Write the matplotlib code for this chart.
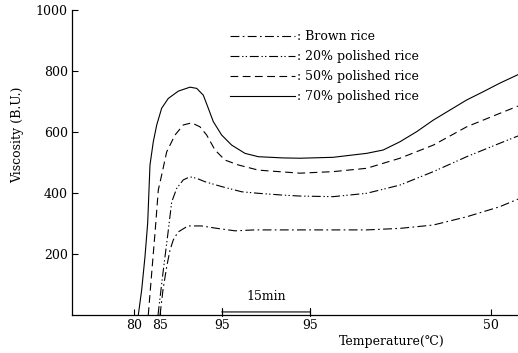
import matplotlib
matplotlib.use("Agg")
import matplotlib.pyplot as plt

plt.rcParams['font.family'] = ['DejaVu Serif', 'DejaVu Sans']
plt.rcParams['font.size'] = 9

# time axis in minutes from start of the amylogram, viscosity in B.U.
t_70 = [11.24, 11.81, 12.37, 12.83, 13.05, 13.22, 13.78, 14.36, 15.20, 16.32, 18.02,
        20.0, 21.14, 22.25, 23.10, 23.95, 25.37, 27.07, 29.32, 31.58, 35.8, 38.64,
        44.24, 49.95, 52.76, 55.59, 58.42, 61.24, 64.07, 66.9, 69.7, 72.5, 75.6]
v_70 = [0, 82, 191, 302, 410, 492, 568, 623, 678, 710, 734,
        747, 743, 721, 678, 634, 590, 557, 530, 519, 515, 514,
        517, 530, 541, 568, 601, 639, 672, 705, 732, 760, 788]

t_50 = [12.93, 13.51, 14.07, 14.63, 15.20, 16.05, 17.46, 18.86, 20.29, 21.69, 22.83,
        24.24, 25.93, 28.19, 31.58, 35.8, 38.64, 44.24, 49.95, 55.59, 61.24, 66.9,
        72.5, 75.6]
v_50 = [0, 138, 269, 410, 459, 535, 590, 623, 630, 617, 590,
        541, 508, 492, 475, 469, 465, 470, 481, 514, 557, 617,
        661, 685]

t_20 = [14.58, 15.42, 16.27, 16.90, 17.75, 18.86, 20.0, 21.14, 22.54, 25.37, 28.76,
        31.58, 35.8, 38.64, 44.24, 49.95, 55.59, 61.24, 66.9, 72.5, 75.6]
v_20 = [0, 138, 269, 371, 415, 443, 453, 448, 437, 421, 404,
        399, 393, 390, 388, 399, 426, 470, 519, 563, 587]

t_br = [14.92, 15.42, 16.05, 16.61, 17.17, 17.97, 19.66, 21.98, 24.24, 27.63, 31.0,
        38.64, 49.95, 55.59, 61.24, 66.9, 72.5, 75.6]
v_br = [0, 82, 158, 213, 246, 272, 292, 292, 285, 276, 279,
        279, 279, 284, 295, 322, 355, 380]

temp_pos = [10.5, 14.9, 25.4, 40.3, 71.0]
temp_lab = ["80", "85", "95", "95", "50"]

fig = plt.figure(figsize=(5.18, 3.53), dpi=100)
ax = fig.add_axes([72/518, 38/353, 446/518, 305/353])

lw = 0.8
ax.plot(t_br, v_br, color='k', lw=lw, dashes=(8, 3, 1.5, 3), label=': Brown rice')
ax.plot(t_20, v_20, color='k', lw=lw, dashes=(8, 2.5, 1.2, 2, 1.2, 2.5), label=': 20% polished rice')
ax.plot(t_50, v_50, color='k', lw=lw, dashes=(7, 4), label=': 50% polished rice')
ax.plot(t_70, v_70, color='k', lw=lw, label=': 70% polished rice')

ax.set_xlim(0, 75.6)
ax.set_ylim(0, 1000)
ax.spines['top'].set_visible(False)
ax.spines['right'].set_visible(False)
ax.spines['left'].set_linewidth(0.9)
ax.spines['bottom'].set_linewidth(0.9)
ax.set_yticks([200, 400, 600, 800, 1000])
ax.set_xticks(temp_pos)
ax.set_xticklabels(temp_lab)
ax.tick_params(direction='in', length=4, width=0.8, pad=3)

# 15 min holding period at 95 C
ax.annotate('', xy=(temp_pos[2], 10), xytext=(temp_pos[3], 10),
            arrowprops=dict(arrowstyle='|-|', lw=0.8, mutation_scale=3, shrinkA=0, shrinkB=0))
ax.text((temp_pos[2] + temp_pos[3]) / 2, 40, '15min', ha='center', va='bottom', fontsize=9)

leg = ax.legend(loc='upper left', bbox_to_anchor=(0.33, 0.97), frameon=False,
                handlelength=5.2, handletextpad=0.1, labelspacing=0.55, fontsize=9)

fig.text(18/518, 1 - 135/353, 'Viscosity (B.U.)', rotation=90, ha='center', va='center', fontsize=9)
fig.text(392/518, 1 - 341/353, 'Temperature(℃)', ha='center', va='center', fontsize=9)

fig.savefig('out.png', dpi=100)
